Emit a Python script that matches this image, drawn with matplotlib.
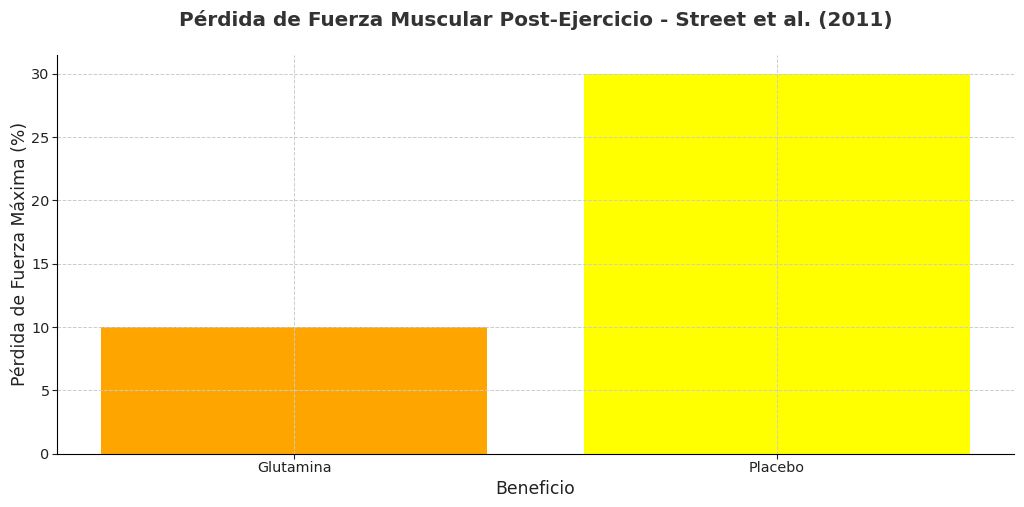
import matplotlib.pyplot as plt

# Datos
grupos = ['Glutamina', 'Placebo']
perdida_fuerza = [10, 30]
colores = ['orange', 'yellow']

fig, ax = plt.subplots(figsize=(10.24, 5.07), dpi=100)

ax.bar(grupos, perdida_fuerza, color=colores, width=0.8)

ax.set_title('Pérdida de Fuerza Muscular Post-Ejercicio - Street et al. (2011)',
             fontsize=14.4, fontweight='bold', color='#333333', pad=21)
ax.set_xlabel('Beneficio', fontsize=12.4, color='#222222', labelpad=3)
ax.set_ylabel('Pérdida de Fuerza Máxima (%)', fontsize=12.4, color='#222222',
              labelpad=2)

ax.grid(True, linestyle='--', linewidth=0.7, color='#cccccc')
ax.spines['top'].set_visible(False)
ax.spines['right'].set_visible(False)
ax.tick_params(labelsize=10.4, colors='#222222', pad=2)

plt.subplots_adjust(left=0.056, right=0.99, top=0.892, bottom=0.105)
plt.savefig('out.png', dpi=100)
